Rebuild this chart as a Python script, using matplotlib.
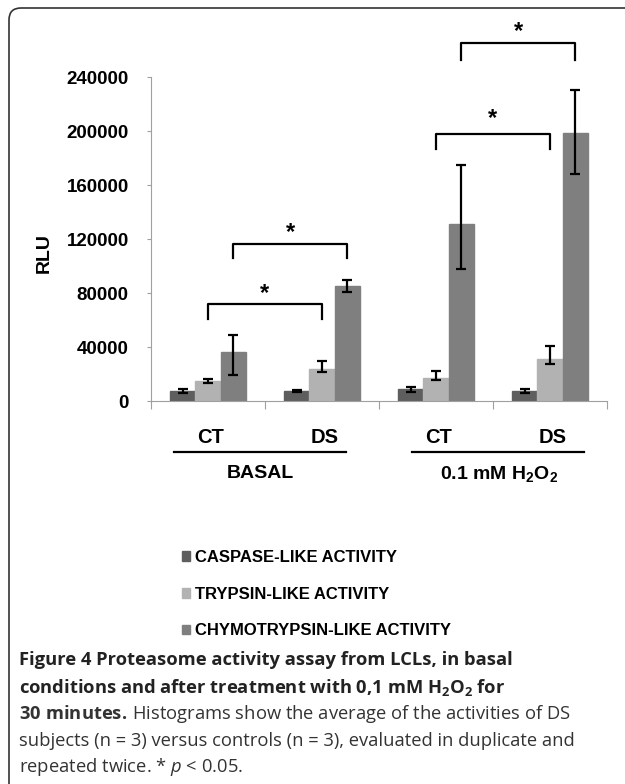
import matplotlib
matplotlib.use("Agg")
import matplotlib.pyplot as plt
from matplotlib import font_manager
from matplotlib.patches import Patch, PathPatch
from matplotlib.path import Path

# ---------------------------------------------------------------
groups = ["CT", "DS", "CT", "DS"]
conditions = ["BASAL", "0.1 mM H$\\mathsf{_2O_2}$"]
series = ["CASPASE-LIKE ACTIVITY", "TRYPSIN-LIKE ACTIVITY", "CHYMOTRYPSIN-LIKE ACTIVITY"]

caspase = [7500, 7500, 8700, 7500]
caspase_lo = [1700, 800, 1800, 1500]
caspase_hi = [1700, 800, 1800, 1500]

trypsin = [14800, 24000, 17300, 31000]
trypsin_lo = [1500, 2500, 2000, 3300]
trypsin_hi = [1500, 5500, 4900, 9800]

chymo = [36000, 85000, 131000, 198500]
chymo_lo = [17000, 4000, 33000, 30000]
chymo_hi = [13000, 4500, 44000, 32000]

yticks = [0, 40000, 80000, 120000, 160000, 200000, 240000]

# significance brackets: (left bar x, right bar x, top y, leg bottom y)
brackets = [
    (0.5, 1.5, 71900, 60700),
    (0.72, 1.72, 116300, 106000),
    (2.5, 3.5, 197800, 186700),
    (2.72, 3.72, 265000, 252600),
]
star_y = [79500, 124500, 209500, 274000]

colors = ["#5e5e5e", "#b2b2b2", "#7f7f7f"]
# ---------------------------------------------------------------

names = {f.name for f in font_manager.fontManager.ttflist}
narrow = "Liberation Sans Narrow" if "Liberation Sans Narrow" in names else "Liberation Sans"

plt.rcParams["font.family"] = ["Liberation Sans", "DejaVu Sans"]
plt.rcParams["mathtext.fontset"] = "custom"
plt.rcParams["mathtext.sf"] = "Liberation Sans:bold"
plt.rcParams["mathtext.bf"] = "Open Sans:bold"
plt.rcParams["mathtext.it"] = "Open Sans:italic"
plt.rcParams["mathtext.rm"] = "Open Sans"

fig = plt.figure(figsize=(6.25, 7.84), dpi=100)
ax = fig.add_axes([151 / 625, 1 - 401 / 784, 456 / 625, 378 / 784])

x = [0.5, 1.5, 2.5, 3.5]
w = 0.22
vals = [caspase, trypsin, chymo]
los = [caspase_lo, trypsin_lo, chymo_lo]
his = [caspase_hi, trypsin_hi, chymo_hi]
for i in range(3):
    xs = [v + (i - 1) * w for v in x]
    ax.bar(xs, vals[i], width=w, color=colors[i], edgecolor=colors[i], label=series[i], zorder=2)
    ax.errorbar(xs, vals[i], yerr=[los[i], his[i]], fmt="none", ecolor="black",
                elinewidth=1.6, capsize=3.6, capthick=1.6, zorder=3)

ax.set_xlim(0, 4)
ax.set_ylim(0, 280000)
ax.set_yticks(yticks)
ax.set_yticklabels([str(t) for t in yticks], fontsize=13.5, fontweight="bold")
ax.set_xticks([0, 1, 2, 3, 4])
ax.set_xticklabels([])
ax.tick_params(axis="y", direction="out", length=3, pad=13, color="#a0a0a0")
ax.tick_params(axis="x", direction="out", length=6, color="#a0a0a0")
for s in ["top", "right"]:
    ax.spines[s].set_visible(False)
ax.spines["left"].set_bounds(0, 240000)
ax.spines["left"].set_color("#a0a0a0")
ax.spines["bottom"].set_color("#a0a0a0")

# brackets and stars
for (x0, x1, yt, yb), sy in zip(brackets, star_y):
    ax.plot([x0, x0, x1, x1], [yb, yt, yt, yb], color="black", lw=1.6, clip_on=False, zorder=4)
    ax.text((x0 + x1) / 2, sy, "*", ha="center", va="center", fontsize=17,
            fontweight="bold", clip_on=False)

# category labels under the axis
for xi, g in zip(x, groups):
    ax.text(xi + 0.02, -26700, g, ha="center", va="center", fontsize=14.5, fontweight="bold")
ax.plot([0.2, 1.71], [-37800, -37800], color="black", lw=1.6, clip_on=False)
ax.plot([2.29, 3.80], [-37800, -37800], color="black", lw=1.6, clip_on=False)
ax.text(0.96, -54000, conditions[0], ha="center", va="center", fontsize=14, fontweight="bold")
ax.text(3.05, -54000, conditions[1], ha="center", va="center", fontsize=14, fontweight="bold")

fig.text(44 / 625, 1 - 253 / 784, "RLU", rotation=90, ha="center", va="center",
         fontsize=14, fontweight="bold")

handles = [Patch(facecolor=c, edgecolor=c) for c in colors]
leg = fig.legend(handles, series, loc="upper left", bbox_to_anchor=(182 / 625, 1 - 550 / 784),
                 frameon=False, handlelength=0.5, handleheight=0.5, handletextpad=0.3,
                 labelspacing=1.3, borderpad=0, borderaxespad=0,
                 prop={"family": narrow, "weight": "bold", "size": 12})

# caption
cx = 19 / 625
cs = 13.2
cap_lines = [
    ("Figure 4 Proteasome activity assay from LCLs, in basal", "bold"),
    ("conditions and after treatment with 0,1 mM $\\mathbf{H_2O_2}$ for", "bold"),
    ("$\\mathbf{30\\ minutes.}\\,$Histograms show the average of the activities of DS", "normal"),
    ("subjects (n = 3) versus controls (n = 3), evaluated in duplicate and", "normal"),
    ("repeated twice. * $\\mathit{p}$ < $\\mathit{0.05.}$", "normal"),
]
cap_y = [660, 687, 714, 741, 767]
for (t, wgt), yy in zip(cap_lines, cap_y):
    fig.text(cx, 1 - yy / 784, t, ha="left", va="center", fontsize=cs, fontweight=wgt,
             family="Open Sans", color="#222222" if wgt == "bold" else "#333333")

# rounded frame: left and top edges only, rest is cut off by the image
r = 0.12
left, top = 0.09, 7.76
verts = [(left, -0.5), (left, top - r), (left, top), (left + r, top), (7.0, top)]
codes = [Path.MOVETO, Path.LINETO, Path.CURVE3, Path.CURVE3, Path.LINETO]
frame = PathPatch(Path(verts, codes), transform=fig.dpi_scale_trans, facecolor="none",
                  edgecolor="#333333", lw=1.2)
fig.patches.append(frame)

fig.savefig("out.png", dpi=100)
